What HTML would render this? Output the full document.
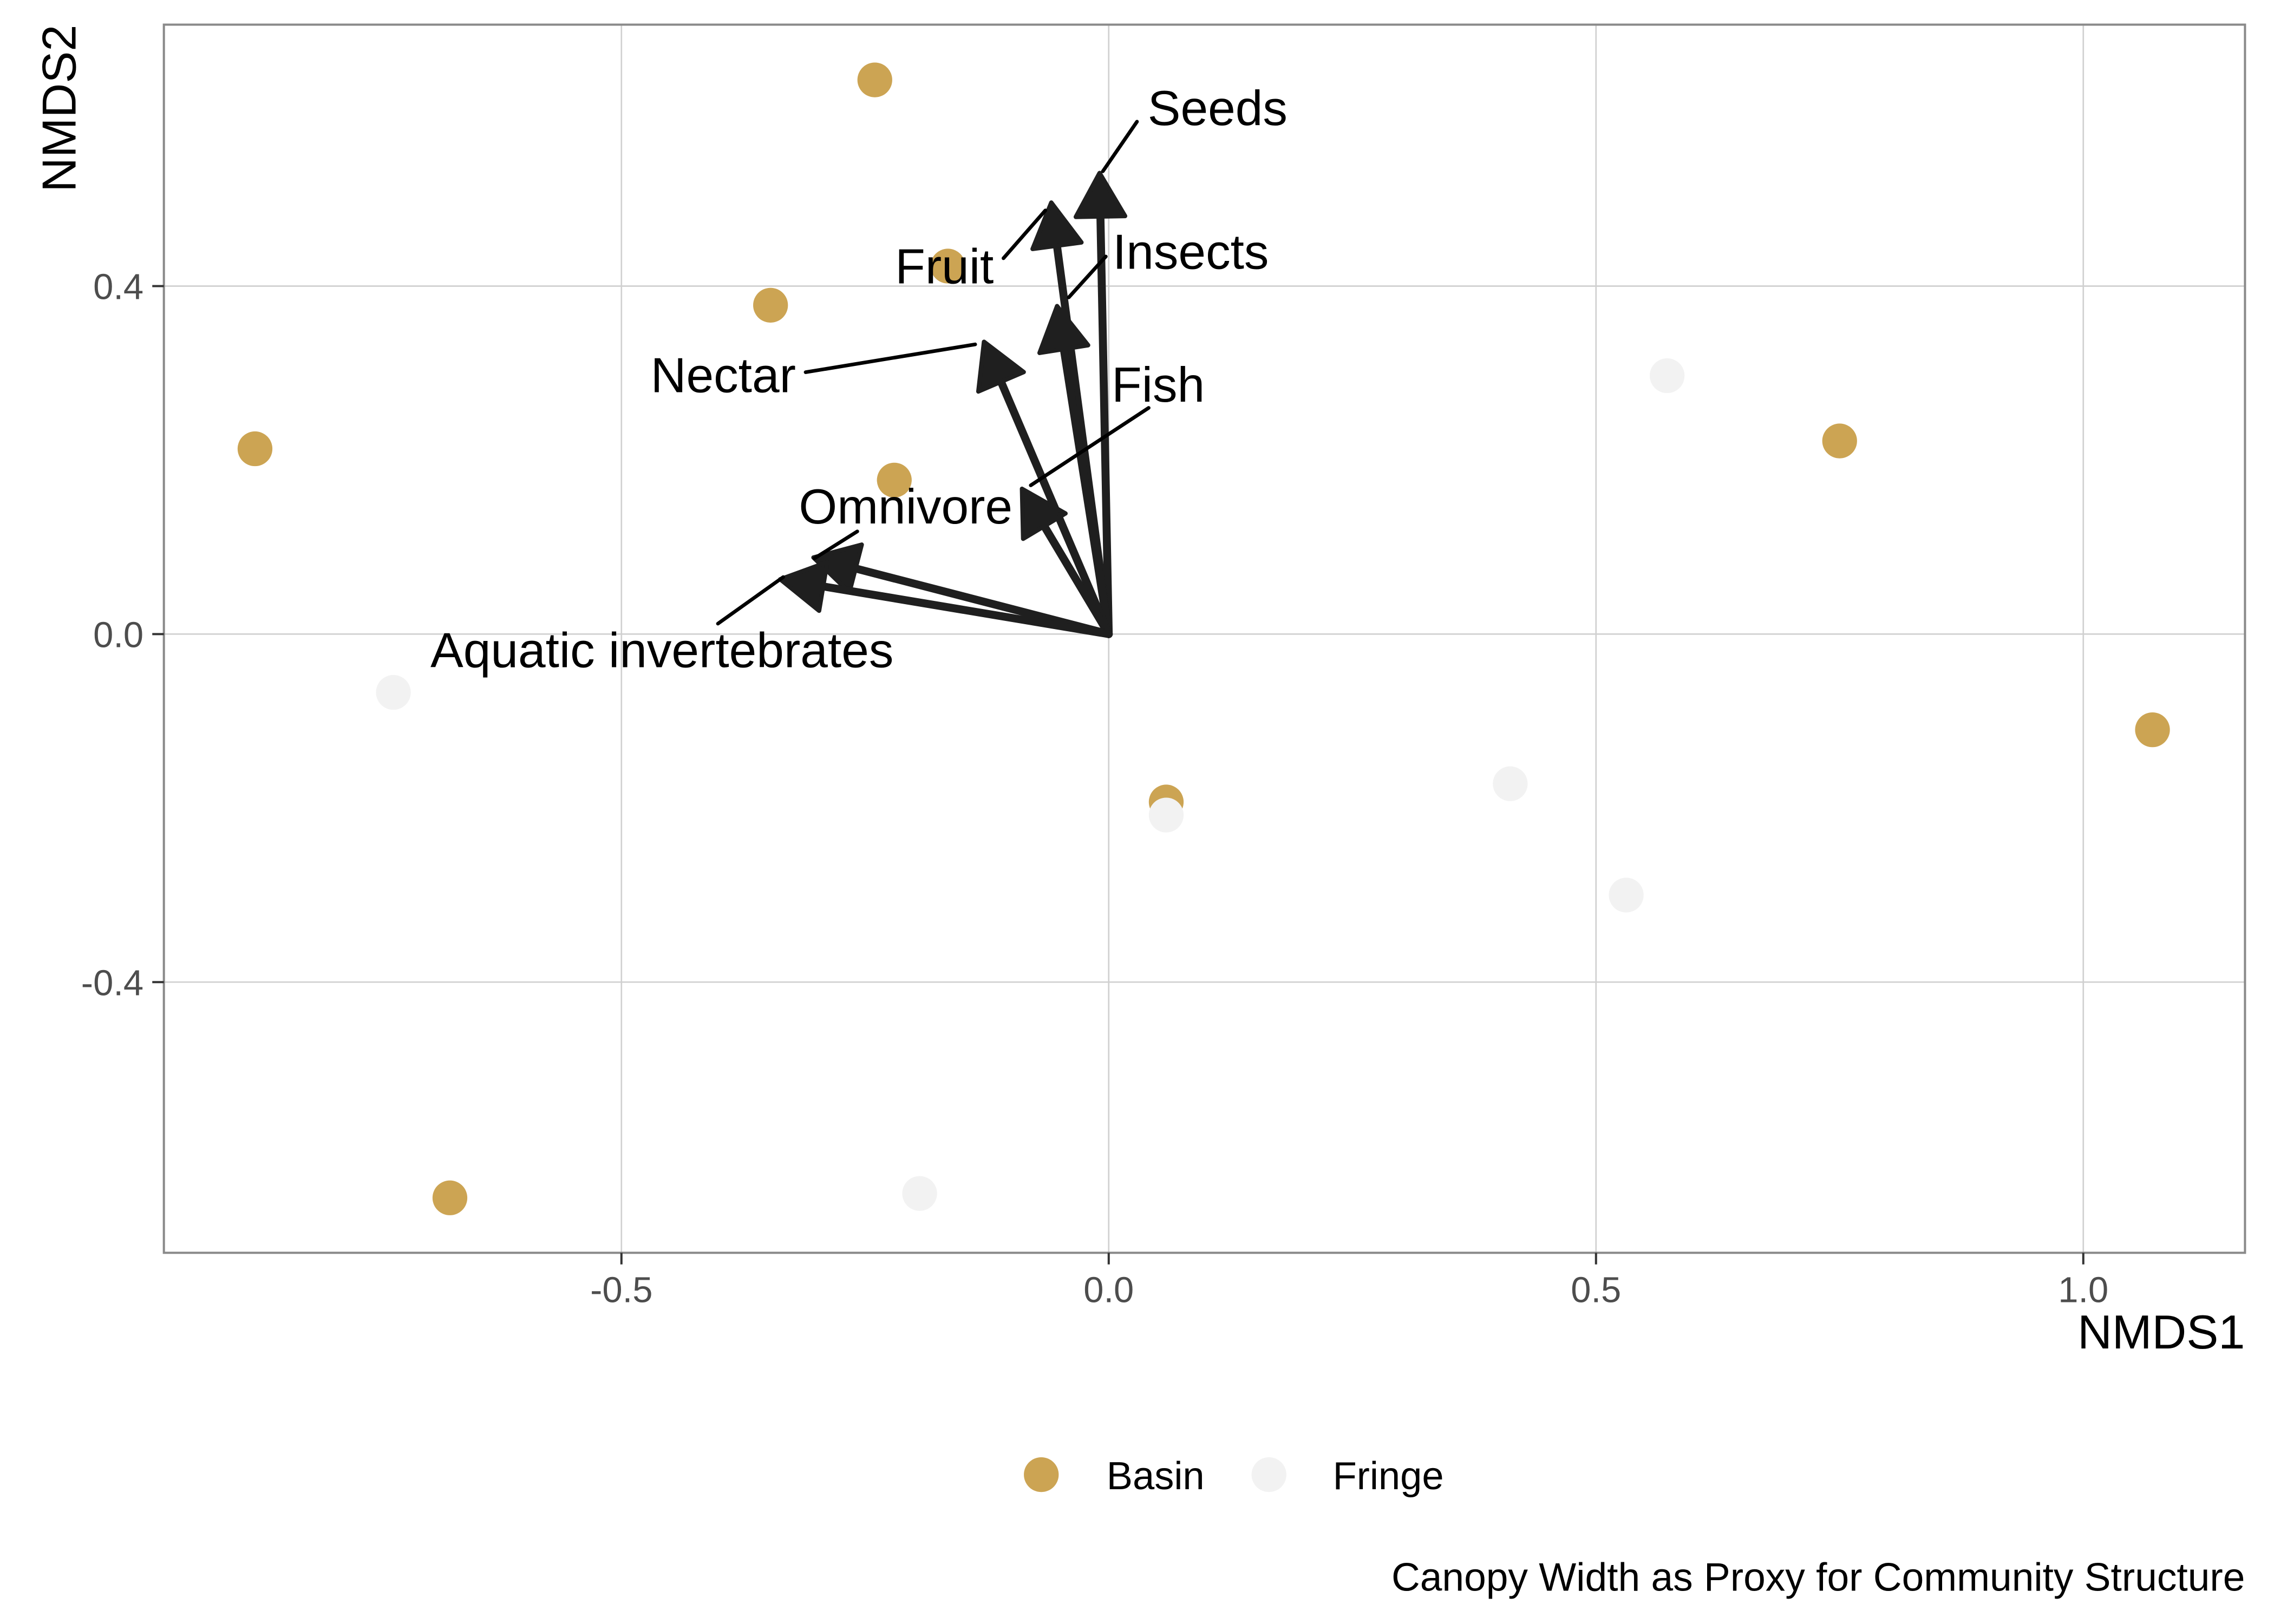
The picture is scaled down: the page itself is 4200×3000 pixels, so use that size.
<!DOCTYPE html>
<html><head><meta charset="utf-8"><style>
html,body{margin:0;padding:0;background:#fff}
svg{display:block}
text{font-family:"Liberation Sans",Arial,sans-serif}
</style></head><body>
<svg id="chart" width="4200" height="3000" viewBox="0 0 1568 1120" xmlns="http://www.w3.org/2000/svg">
<rect x="0" y="0" width="1568" height="1120" fill="#fff"/>
<g id="grid"></g>
<g id="pts"></g>
<g id="arrows"></g>
<g id="labels"></g>
<rect x="113" y="17" width="1435" height="847" fill="none" stroke="#8a8a8a" stroke-width="1.5"/>
<g id="axes"></g>
<text x="1548" y="930" text-anchor="end" font-size="33" fill="#000">NMDS1</text>
<text transform="translate(52,17) rotate(-90)" text-anchor="end" font-size="33" fill="#000">NMDS2</text>
<g>
<circle cx="718" cy="1017" r="12" fill="#CCA453"/>
<text x="763" y="1027" font-size="27" fill="#000">Basin</text>
<circle cx="875" cy="1017" r="12" fill="#F2F2F2"/>
<text x="919" y="1027" font-size="27" fill="#000">Fringe</text>
</g>
<text x="1548" y="1097" text-anchor="end" font-size="27.3" fill="#000">Canopy Width as Proxy for Community Structure</text>
</svg>
<script>
const xTicks=[-0.5,0,0.5,1.0];
const xTickLabels=["-0.5","0.0","0.5","1.0"];
const yTicks=[-0.4,0,0.4];
const yTickLabels=["-0.4","0.0","0.4"];
const basinX=[-0.24,-0.165,-0.347,-0.876,-0.22,0.059,-0.676,0.75,1.071];
const basinY=[0.637,0.423,0.378,0.213,0.177,-0.193,-0.648,0.222,-0.11];
const fringeX=[0.573,-0.734,0.412,0.059,0.531,-0.194];
const fringeY=[0.297,-0.067,-0.172,-0.208,-0.3,-0.643];
const vecNames=["Seeds","Fruit","Insects","Nectar","Fish","Omnivore","Aquatic invertebrates"];
const vecX=[-0.0094,-0.059,-0.053,-0.128,-0.089,-0.303,-0.337];
const vecY=[0.53,0.496,0.377,0.336,0.167,0.088,0.063];
const labX=[0.04,-0.118,0.004,-0.321,0.003,-0.318,-0.696];
const labY=[0.585,0.403,0.42,0.278,0.267,0.127,-0.038];
const labAnchor=["start","end","start","end","start","start","start"];
const leadFromX=[0.029,-0.108,-0.003,-0.311,0.041,-0.258,-0.401];
const leadFromY=[0.589,0.432,0.434,0.301,0.26,0.118,0.012];
const leadToX=[-0.006,-0.065,-0.041,-0.137,-0.08,-0.302,-0.334];
const leadToY=[0.532,0.487,0.387,0.333,0.171,0.087,0.0655];

const X=v=>764.5+672*v, Y=v=>437.3-600*v;
const NS="http://www.w3.org/2000/svg";
function mk(tag,parent,attrs){const e=document.createElementNS(NS,tag);for(const k in attrs)e.setAttribute(k,attrs[k]);document.getElementById(parent).appendChild(e);return e;}

xTicks.forEach((t,i)=>{
 const g=mk('line','grid',{x1:X(t),x2:X(t),y1:17,y2:864,stroke:'#d0d0d0','stroke-width':1});
 
 
 const tk=mk('line','axes',{x1:X(t),x2:X(t),y1:864,y2:872,stroke:'#333','stroke-width':1.5});
 
 
 const tl=mk('text','axes',{x:X(t),y:898,'text-anchor':'middle','font-size':25,fill:'#4d4d4d'});
 tl.textContent=xTickLabels[i];
 
 
});
yTicks.forEach((t,i)=>{
 const g=mk('line','grid',{x1:113,x2:1548,y1:Y(t),y2:Y(t),stroke:'#d0d0d0','stroke-width':1});
 
 
 const tk=mk('line','axes',{x1:105,x2:113,y1:Y(t),y2:Y(t),stroke:'#333','stroke-width':1.5});
 
 
 const tl=mk('text','axes',{x:99,y:Y(t)+9,'text-anchor':'end','font-size':25,fill:'#4d4d4d'});
 tl.textContent=yTickLabels[i];
 
 
});
basinX.forEach((v,i)=>{
 const c=mk('circle','pts',{cx:X(v),cy:Y(basinY[i]),r:12,fill:'#CCA453'});
 
 
});
fringeX.forEach((v,i)=>{
 const c=mk('circle','pts',{cx:X(v),cy:Y(fringeY[i]),r:12,fill:'#F2F2F2'});
 
 
});
vecNames.forEach((n,i)=>{
 const x0=X(0),y0=Y(0),x1=X(vecX[i]),y1=Y(vecY[i]);
 const dx=x1-x0,dy=y1-y0,L=Math.hypot(dx,dy),ux=dx/L,uy=dy/L,hl=30,hw=17;
 const bx=x1-ux*hl,by=y1-uy*hl;
 const ln=mk('line','arrows',{x1:x0,y1:y0,x2:bx,y2:by,stroke:'#1f1f1f','stroke-width':5.5,'stroke-linecap':'round'});
 
 
 const pts=[x1,y1,bx-uy*hw,by+ux*hw,bx+uy*hw,by-ux*hw].map(v=>v.toFixed(1));
 const hd=mk('polygon','arrows',{points:pts[0]+','+pts[1]+' '+pts[2]+','+pts[3]+' '+pts[4]+','+pts[5],fill:'#1f1f1f',stroke:'#1f1f1f','stroke-width':3,'stroke-linejoin':'round'});
 
 
 const ld=mk('line','labels',{x1:X(leadFromX[i]),y1:Y(leadFromY[i]),x2:X(leadToX[i]),y2:Y(leadToY[i]),stroke:'#000','stroke-width':2.5,'stroke-linecap':'round'});
 
 
 const t=mk('text','labels',{x:X(labX[i]),y:Y(labY[i]),'text-anchor':labAnchor[i],'font-size':34,fill:'#000'});
 t.textContent=n;
 
 
});
</script>
</body></html>
